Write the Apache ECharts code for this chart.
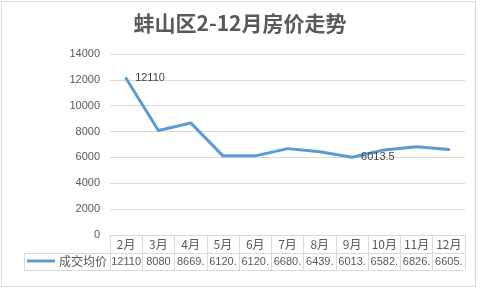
<!DOCTYPE html>
<html><head><meta charset="utf-8">
<script src="https://cdn.jsdelivr.net/npm/echarts@6/dist/echarts.min.js"></script>
<style>html,body{margin:0;padding:0;background:#fff}#c{width:480px;height:289px}</style>
</head><body><div id="c"></div>
<script>
var titleText = '蚌山区2-12月房价走势';
var seriesName = '成交均价';
var categories = ['2月','3月','4月','5月','6月','7月','8月','9月','10月','11月','12月'];
var values = [12110, 8080, 8669.5, 6120.5, 6120.3, 6680.5, 6439.5, 6013.5, 6582.5, 6826.5, 6605.5];
var labeledIdx = [0, 7];
var yTicks = [0, 2000, 4000, 6000, 8000, 10000, 12000, 14000];

var numFont = 'Liberation Sans';
var cjkFont = 'Noto Sans CJK SC';
var gray = '#d9d9d9';

var chart = echarts.init(document.getElementById('c'), null, {renderer: 'canvas'});
chart.setOption({
  animation: false,
  backgroundColor: '#fff',
  title: {
    text: titleText, left: 'center', top: 8,
    textStyle: {fontFamily: cjkFont, fontSize: 21, fontWeight: 'bold', color: '#595959'}
  },
  legend: {
    left: 27, top: 255, padding: 0, icon: 'rect', itemWidth: 28, itemHeight: 3, itemGap: 4,
    textStyle: {fontFamily: cjkFont, fontSize: 12, color: '#595959', padding: [0,0,0,-1]},
    data: [seriesName]
  },
  grid: {left: 110, right: 15, top: 54, bottom: 54},
  xAxis: {
    type: 'category', data: categories, boundaryGap: true,
    axisLine: {lineStyle: {color: gray, width: 1}},
    axisTick: {show: true, length: 35, alignWithLabel: false, interval: 0, lineStyle: {color: gray}},
    axisLabel: {
      interval: 0, margin: 1,
      formatter: function (v, i) {
        return '{a|' + v + '}\n{b|' + String(values[i]).slice(0, 5) + '}';
      },
      rich: {
        a: {fontFamily: cjkFont, fontSize: 12, color: '#595959', lineHeight: 17.5},
        b: {fontFamily: numFont, fontSize: 11, color: '#595959', lineHeight: 17.5}
      }
    }
  },
  yAxis: {
    type: 'value', min: yTicks[0], max: yTicks[yTicks.length-1], interval: yTicks[1]-yTicks[0],
    axisLine: {show: false}, axisTick: {show: false},
    splitLine: {lineStyle: {color: gray, width: 1}},
    axisLabel: {fontFamily: numFont, fontSize: 11, color: '#595959', margin: 10,
      formatter: function (v) { return String(v); }}
  },
  series: [{
    name: seriesName, type: 'line', data: values.map(function (v, i) {
      return labeledIdx.indexOf(i) >= 0 ? {value: v, label: {show: true}} : v;
    }),
    showSymbol: true, symbol: 'circle', symbolSize: 0,
    lineStyle: {color: '#5b9bd5', width: 3, cap: 'round', join: 'round'},
    itemStyle: {color: '#5b9bd5'},
    label: {show: false, position: 'right', distance: 9, fontFamily: numFont, fontSize: 11, color: '#404040',
      formatter: function (p) { return String(p.value); }}
  }],
  graphic: [
    {type: 'rect', silent: true, shape: {x: 1.5, y: 1.5, width: 474, height: 285}, style: {fill: 'none', stroke: gray, lineWidth: 1}},
    {type: 'line', silent: true, shape: {x1: 24, y1: 253.5, x2: 465, y2: 253.5}, style: {stroke: gray, lineWidth: 1}},
    {type: 'line', silent: true, shape: {x1: 24, y1: 270.5, x2: 465, y2: 270.5}, style: {stroke: gray, lineWidth: 1}},
    {type: 'line', silent: true, shape: {x1: 24.5, y1: 253, x2: 24.5, y2: 271}, style: {stroke: gray, lineWidth: 1}}
  ]
});
</script></body></html>
